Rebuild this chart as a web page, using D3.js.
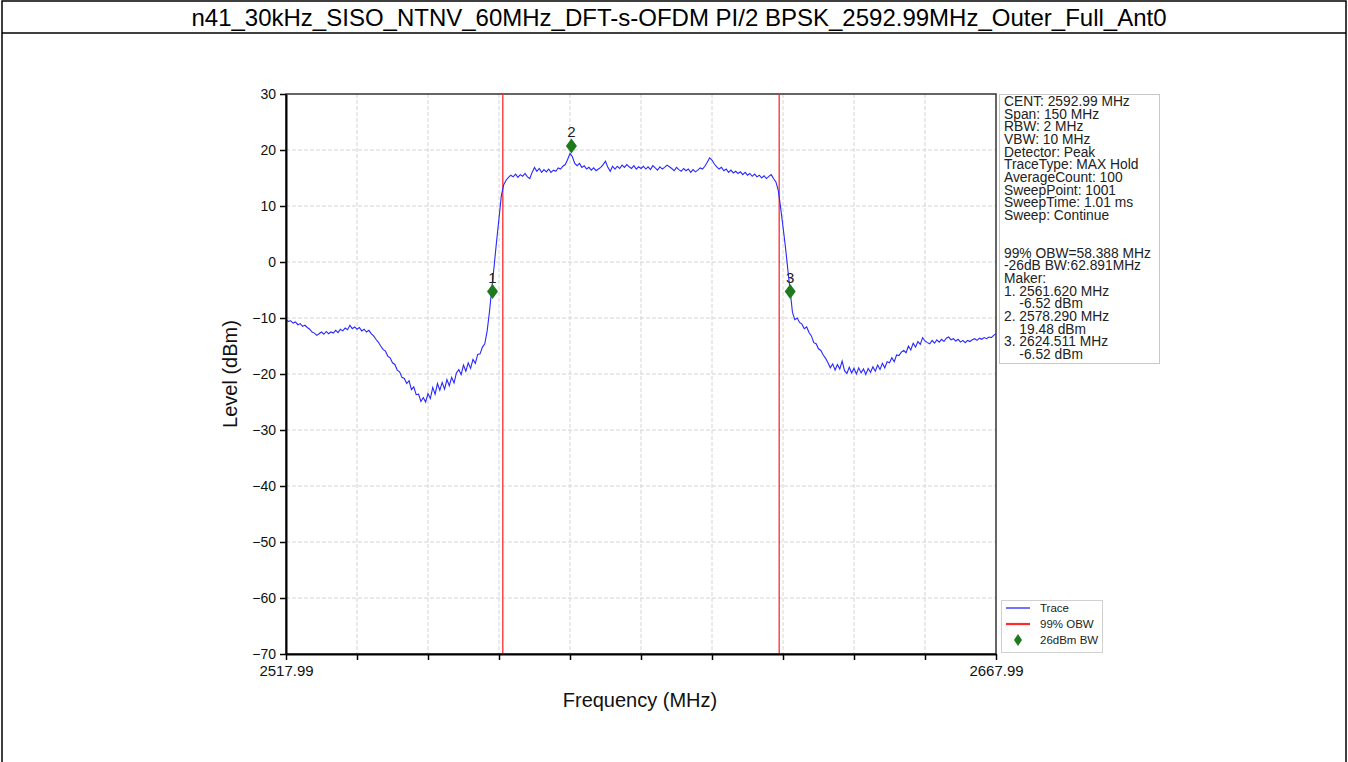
<!DOCTYPE html>
<html><head><meta charset="utf-8">
<script src="https://cdn.jsdelivr.net/npm/d3@7"></script>
<style>
html,body{margin:0;padding:0;background:#fff;}
svg{display:block;font-family:"Liberation Sans",Arial,sans-serif;}
</style></head><body>
<svg id="c" width="1348" height="762"></svg>
<script>
const chartTitle = "n41_30kHz_SISO_NTNV_60MHz_DFT-s-OFDM PI/2 BPSK_2592.99MHz_Outer_Full_Ant0";
const sweepStart = 2517.99;
const sweepStop = 2667.99;
const sweepStep = 0.5;
const levels = [
-10.4,-10.6,-10.5,-10.9,-10.7,-11.2,-11.0,-11.5,-11.3,-11.7,
-12.0,-12.5,-12.7,-13.1,-12.8,-12.5,-12.9,-12.4,-12.8,-12.5,
-12.7,-12.2,-12.6,-12.0,-12.3,-11.8,-12.1,-11.3,-11.9,-11.6,
-12.0,-11.7,-12.3,-12.0,-12.5,-12.2,-12.8,-13.2,-13.8,-14.3,
-15.0,-15.6,-15.9,-16.8,-17.1,-18.0,-18.3,-19.3,-19.6,-20.6,
-20.8,-21.7,-21.2,-22.8,-22.3,-23.7,-23.6,-24.9,-24.2,-25.0,
-23.5,-24.4,-22.4,-23.6,-21.7,-22.9,-21.5,-22.7,-21.0,-22.1,
-20.6,-21.6,-19.8,-19.2,-20.1,-18.4,-19.5,-18.0,-19.0,-17.4,
-18.1,-16.5,-16.4,-15.2,-14.6,-12.3,-8.8,-4.6,-0.5,3.8,
7.8,11.9,13.8,14.6,15.1,15.5,15.2,15.7,15.1,15.6,
15.3,15.8,15.2,14.9,16.0,16.9,16.2,16.7,16.0,16.5,
16.1,16.6,16.0,16.4,16.2,16.8,16.6,17.1,17.4,18.3,
19.4,18.8,17.6,17.2,17.6,16.9,17.2,16.6,16.9,16.4,
16.8,16.3,16.6,16.9,17.4,18.0,16.9,16.2,17.1,16.6,
17.1,16.7,17.3,16.9,17.4,17.0,16.7,17.2,16.6,17.0,
16.7,17.1,16.6,17.0,16.5,17.2,16.8,16.4,17.0,16.6,
16.9,17.3,17.0,16.7,16.3,16.9,16.5,16.2,16.7,16.3,
16.6,16.0,16.5,16.1,16.4,16.8,16.6,17.1,17.8,18.6,
18.2,17.5,17.0,16.6,16.9,16.3,16.6,16.0,16.4,15.9,
16.2,15.8,16.1,15.6,16.0,15.5,15.8,15.3,15.7,15.2,
15.5,15.0,15.4,14.9,15.3,15.6,14.9,14.3,12.8,9.7,
6.3,2.8,-1.2,-5.1,-9.0,-10.3,-10.0,-10.8,-11.1,-11.9,
-11.6,-12.6,-13.2,-14.4,-14.6,-15.5,-15.8,-16.6,-17.2,-18.0,
-18.9,-18.2,-19.3,-18.3,-19.1,-17.7,-19.4,-19.9,-18.8,-19.8,
-19.0,-20.0,-18.9,-19.8,-19.1,-20.1,-19.0,-19.7,-18.7,-19.5,
-18.4,-19.2,-18.1,-18.9,-17.8,-18.0,-17.1,-17.8,-16.6,-16.7,
-16.1,-15.8,-16.2,-15.0,-15.7,-14.5,-15.2,-14.2,-14.7,-13.5,
-14.1,-14.4,-14.6,-14.0,-14.5,-13.9,-14.3,-13.8,-14.2,-13.6,
-13.4,-13.9,-13.7,-14.1,-13.8,-14.3,-14.0,-14.4,-14.0,-14.2,
-13.9,-13.7,-14.0,-13.6,-13.8,-13.5,-13.7,-13.4,-13.5,-13.1,-12.8
];
const yTicks = [-70,-60,-50,-40,-30,-20,-10,0,10,20,30];
const xTicks = [2517.99,2532.99,2547.99,2562.99,2577.99,2592.99,2607.99,2622.99,2637.99,2652.99,2667.99];
const xTickLabels = ["2517.99","","","","","","","","","","2667.99"];
const obwEdges = [2563.796, 2622.184];
const markerIds = ["1","2","3"];
const markerFreqs = [2561.620, 2578.290, 2624.511];
const markerLevels = [-6.52, 19.48, -6.52];
const infoLines = [
"CENT: 2592.99 MHz","Span: 150 MHz","RBW: 2 MHz","VBW: 10 MHz","Detector: Peak",
"TraceType: MAX Hold","AverageCount: 100","SweepPoint: 1001","SweepTime: 1.01 ms","Sweep: Continue",
"","",
"99% OBW=58.388 MHz","-26dB BW:62.891MHz","Maker:",
"1. 2561.620 MHz","    -6.52 dBm","2. 2578.290 MHz","    19.48 dBm","3. 2624.511 MHz","    -6.52 dBm"
];
const legendLabels = ["Trace","99% OBW","26dBm BW"];
const xTitle = "Frequency (MHz)";
const yTitle = "Level (dBm)";

const svg = d3.select("#c");
const L = 286, R = 996, T = 94, B = 654;
const x = d3.scaleLinear().domain([sweepStart, sweepStop]).range([L, R]);
const y = d3.scaleLinear().domain([-70, 30]).range([B, T]);
const blue = "#2828ff", red = "#ff2b2b", green = "#1d7a1d";

// outer frame and title
svg.append("rect").attr("x",2).attr("y",1).attr("width",1344).attr("height",770)
  .attr("fill","none").attr("stroke","#000").attr("stroke-width",1.5);
svg.append("line").attr("x1",2).attr("x2",1346).attr("y1",33).attr("y2",33)
  .attr("stroke","#000").attr("stroke-width",1.5);
svg.append("text").attr("x",679).attr("y",26).attr("text-anchor","middle")
  .attr("font-size",24).attr("fill","#000").text(chartTitle);

// grid
const g = svg.append("g");
g.selectAll("line.gx").data(xTicks.slice(1,-1)).join("line")
  .attr("x1",d=>x(d)).attr("x2",d=>x(d)).attr("y1",T).attr("y2",B)
  .attr("stroke","#d4d4d4").attr("stroke-dasharray","4,2").attr("stroke-width",1);
g.selectAll("line.gy").data(yTicks.slice(1,-1)).join("line")
  .attr("x1",L).attr("x2",R).attr("y1",d=>y(d)).attr("y2",d=>y(d))
  .attr("stroke","#d4d4d4").attr("stroke-dasharray","4,2").attr("stroke-width",1);

// frame
svg.append("rect").attr("x",L).attr("y",T).attr("width",R-L).attr("height",B-T)
  .attr("fill","none").attr("stroke","#333").attr("stroke-width",1.5);

// clip
svg.append("clipPath").attr("id","pc").append("rect")
  .attr("x",L).attr("y",T).attr("width",R-L).attr("height",B-T);

// OBW lines
svg.selectAll("line.obw").data(obwEdges).join("line")
  .attr("x1",d=>x(d)).attr("x2",d=>x(d)).attr("y1",T).attr("y2",B)
  .attr("stroke",red).attr("stroke-width",1.3);

// trace
const line = d3.line().x((d,i)=>x(sweepStart + i*sweepStep)).y(d=>y(d));
svg.append("path").datum(levels).attr("d",line).attr("fill","none")
  .attr("stroke",blue).attr("stroke-width",1.1).attr("clip-path","url(#pc)");

// axes
const ax = svg.append("g").attr("transform",`translate(0,${B})`)
  .call(d3.axisBottom(x).tickValues(xTicks).tickSize(6).tickSizeOuter(0).tickPadding(5)
    .tickFormat((d,i)=>xTickLabels[i]));
const ay = svg.append("g").attr("transform",`translate(${L},0)`)
  .call(d3.axisLeft(y).tickValues(yTicks).tickSize(6).tickSizeOuter(0).tickPadding(4));
[ax, ay].forEach(a=>{
  a.select(".domain").attr("stroke","#000").attr("stroke-width",2);
  a.selectAll(".tick line").attr("stroke","#000").attr("stroke-width",1.5);
  a.selectAll("text").attr("font-family","Liberation Sans, Arial, sans-serif").attr("fill","#111");
});
ax.selectAll("text").attr("font-size",15);
ay.selectAll("text").attr("font-size",14);

// axis titles
svg.append("text").attr("x",640).attr("y",707).attr("text-anchor","middle")
  .attr("font-size",20).attr("fill","#111").text(xTitle);
svg.append("text").attr("transform","translate(237,374) rotate(-90)").attr("text-anchor","middle")
  .attr("font-size",20).attr("fill","#111").text(yTitle);

// markers
const mk = svg.append("g");
markerFreqs.forEach((f,i)=>{
  const cx = x(f), by = y(markerLevels[i]), cy = by - 7;
  mk.append("path").attr("d",`M${cx},${cy-7.5}L${cx+5.5},${cy}L${cx},${cy+7.5}L${cx-5.5},${cy}Z`)
    .attr("fill",green);
  mk.append("text").attr("x",cx).attr("y",cy-9).attr("text-anchor","middle")
    .attr("font-size",15).attr("fill","#222").text(markerIds[i]);
});

// info box
svg.append("rect").attr("x",999.5).attr("y",94.5).attr("width",160).attr("height",269)
  .attr("fill","#fff").attr("stroke","#c8c8c8").attr("stroke-width",1);
svg.append("g").selectAll("text").data(infoLines).join("text")
  .attr("x",1004).attr("y",(d,i)=>106 + i*12.65)
  .attr("font-size",13.8).attr("fill","#222").style("white-space","pre").text(d=>d);

// legend
svg.append("rect").attr("x",1001.5).attr("y",600.5).attr("width",101).attr("height",52)
  .attr("fill","#fff").attr("stroke","#d0d0d0").attr("stroke-width",1);
const lg = svg.append("g");
legendLabels.forEach((t,i)=>{
  const ly = 608 + i*16;
  if (i===0) lg.append("line").attr("x1",1006).attr("x2",1030).attr("y1",ly).attr("y2",ly).attr("stroke",blue).attr("stroke-width",1.3);
  if (i===1) lg.append("line").attr("x1",1006).attr("x2",1030).attr("y1",ly).attr("y2",ly).attr("stroke",red).attr("stroke-width",2.2);
  if (i===2) lg.append("path").attr("d",`M1018,${ly-6}L1022,${ly}L1018,${ly+6}L1014,${ly}Z`).attr("fill",green);
  lg.append("text").attr("x",1040).attr("y",ly+4).attr("font-size",11.5).attr("fill","#222").text(t);
});
</script>
</body></html>
